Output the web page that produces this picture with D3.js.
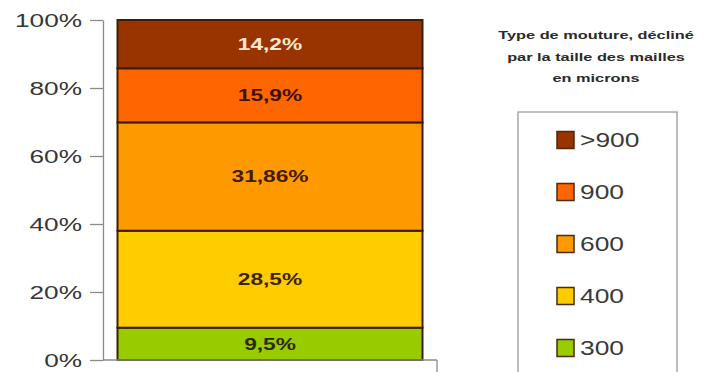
<!DOCTYPE html>
<html><head><meta charset="utf-8">
<script src="https://cdn.jsdelivr.net/npm/d3@7"></script>
<style>
html,body{margin:0;padding:0;background:#fff;}
svg{display:block;font-family:Arial,"Liberation Sans",sans-serif;}
</style></head>
<body>
<svg id="chart" width="709" height="372"></svg>
<script>
// ---- data ----
const categories = ["Mouture"];
const seriesKeys = ["300", "400", "600", "900", ">900"];           // bottom -> top
const seriesValues = [9.5, 28.5, 31.86, 15.9, 14.2];
const seriesColors = ["#99CC00", "#FFCC00", "#FF9900", "#FF6600", "#993300"];
const labelColors  = ["#2e2a00", "#3d2400", "#421a00", "#3d1000", "#FFE8D2"];
const yTicks = [0, 0.2, 0.4, 0.6, 0.8, 1];
const legendTitle = ["Type de mouture, décliné", "par la taille des mailles", "en microns"];

const svg = d3.select("#chart");
const SX = 1.38; // horizontal stretch of glyphs seen in the reference

const row = {cat: categories[0]};
seriesKeys.forEach((k, i) => row[k] = seriesValues[i]);
const stack = d3.stack().keys(seriesKeys).offset(d3.stackOffsetExpand)([row]);

const x = d3.scaleBand().domain(categories).range([103, 437]).padding(0.0454);
const y = d3.scaleLinear().domain([0, 1]).range([360, 20]);
const color = d3.scaleOrdinal().domain(seriesKeys).range(seriesColors);

// bars
const layers = svg.append("g").selectAll("g").data(stack).join("g");
layers.append("rect")
  .attr("x", x(categories[0]))
  .attr("width", x.bandwidth())
  .attr("y", d => y(d[0][1]))
  .attr("height", d => y(d[0][0]) - y(d[0][1]))
  .attr("fill", d => color(d.key))
  .attr("stroke", "#3a1e05")
  .attr("stroke-width", 2);

// bar labels
layers.append("g")
  .attr("transform", d => `translate(${x(categories[0]) + x.bandwidth() / 2},${(y(d[0][0]) + y(d[0][1])) / 2})`)
  .append("text")
  .attr("transform", `scale(1.42,1)`)
  .attr("text-anchor", "middle")
  .attr("dy", "0.36em")
  .attr("font-size", 16)
  .attr("font-weight", "bold")
  .attr("fill", (d, i) => labelColors[i])
  .text((d, i) => String(seriesValues[i]).replace(".", ",") + "%");

// y axis
const yAxis = svg.append("g").attr("transform", "translate(103,0)")
  .call(d3.axisLeft(y).tickValues(yTicks).tickFormat(d3.format(".0%")).tickSize(13).tickSizeOuter(0));
yAxis.selectAll("path,line").attr("stroke", "#8a8a8a").attr("stroke-width", 1.3);
yAxis.selectAll("text")
  .attr("x", 0)
  .attr("transform", `translate(-21,0) scale(${SX},1)`)
  .attr("font-size", 19)
  .attr("font-family", "Arial, 'Liberation Sans', sans-serif")
  .attr("fill", "#363636");

// x axis (no labels)
const xr = x.range();
const xAxis = svg.append("g").attr("transform", `translate(0,${y(0)})`);
xAxis.append("line").attr("x1", xr[0]).attr("x2", xr[1]).attr("y1", 0).attr("y2", 0)
  .attr("stroke", "#8a8a8a").attr("stroke-width", 1.3);
xAxis.append("line").attr("x1", xr[1]).attr("x2", xr[1]).attr("y1", 0).attr("y2", 12)
  .attr("stroke", "#8a8a8a").attr("stroke-width", 1.3);

// legend title
const lt = svg.append("g");
legendTitle.forEach((t, i) => {
  lt.append("g").attr("transform", `translate(596,${39 + i * 21.5})`)
    .append("text").attr("transform", `scale(1.42,1)`)
    .attr("text-anchor", "middle").attr("font-size", 11.5).attr("font-weight", "bold")
    .attr("fill", "#2a2a2a").text(t);
});

// legend box
svg.append("rect").attr("x", 518).attr("y", 112).attr("width", 159).attr("height", 280)
  .attr("fill", "#fff").attr("stroke", "#a8a8a8").attr("stroke-width", 1.5);

const legendOrder = seriesKeys.slice().reverse();
const li = svg.append("g").selectAll("g").data(legendOrder).join("g")
  .attr("transform", (d, i) => `translate(557,${140 + i * 52})`);
li.append("rect").attr("x", 0).attr("y", -8.5).attr("width", 17).attr("height", 17)
  .attr("fill", d => color(d)).attr("stroke", "#4a2a10").attr("stroke-width", 1.5);
li.append("g").attr("transform", "translate(23,0)")
  .append("text").attr("transform", "scale(1.32,1)")
  .attr("dy", "0.36em").attr("font-size", 20).attr("fill", "#3a3a3a").text(d => d);
</script>
</body></html>
